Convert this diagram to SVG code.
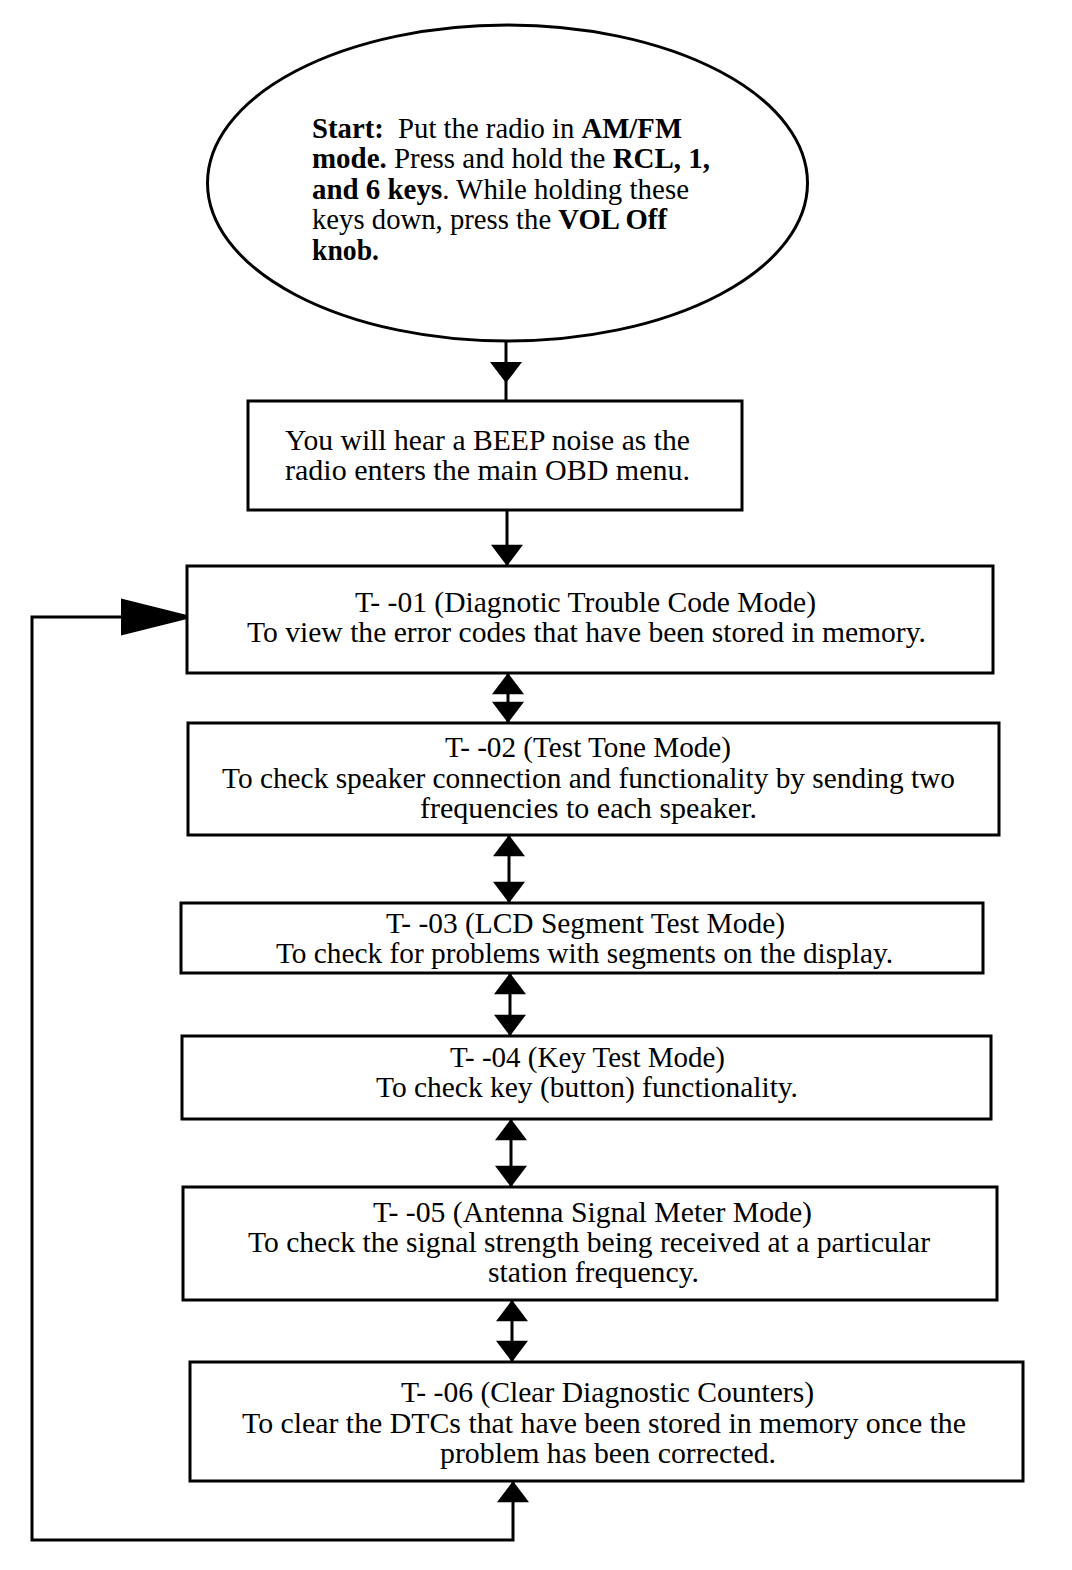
<svg xmlns="http://www.w3.org/2000/svg" width="1072" height="1570" viewBox="0 0 1072 1570">
<defs>
<style>
.shape{fill:#fff;stroke:#000;stroke-width:3}
.line{fill:none;stroke:#000;stroke-width:3}
text{font-family:"Liberation Serif","Times New Roman",serif;font-size:29px;fill:#000}
.c{text-anchor:middle}
.b{font-weight:bold}
</style>
<marker id="ah" markerUnits="userSpaceOnUse" markerWidth="32" markerHeight="32" viewBox="0 0 20 30" refX="20" refY="15" orient="auto-start-reverse">
<path d="M0,0 L20,15 L0,30 Z" fill="#000"/>
</marker>
<marker id="big" markerUnits="userSpaceOnUse" markerWidth="66" markerHeight="40" viewBox="0 0 64 36" refX="64" refY="18" orient="auto">
<path d="M0,0 L64,16 L64,20 L0,36 Z" fill="#000"/>
</marker>
</defs>
<rect width="1072" height="1570" fill="#fff"/>
<g id="connectors">
<line class="line" x1="506" y1="341" x2="506" y2="401"/>
<path d="M490,362 L522,362 L506,383 Z" fill="#000"/>
<line class="line" x1="507" y1="510" x2="507" y2="566" marker-end="url(#ah)"/>
<line class="line" x1="508" y1="673" x2="508" y2="723" marker-start="url(#ah)" marker-end="url(#ah)"/>
<line class="line" x1="509" y1="835" x2="509" y2="903" marker-start="url(#ah)" marker-end="url(#ah)"/>
<line class="line" x1="510" y1="973" x2="510" y2="1036" marker-start="url(#ah)" marker-end="url(#ah)"/>
<line class="line" x1="511" y1="1119" x2="511" y2="1187" marker-start="url(#ah)" marker-end="url(#ah)"/>
<line class="line" x1="512" y1="1300" x2="512" y2="1362" marker-start="url(#ah)" marker-end="url(#ah)"/>
<path class="line" d="M513,1481 L513,1540 L32,1540 L32,617 L187,617" marker-start="url(#ah)" marker-end="url(#big)"/>
</g>
<g id="start">
<ellipse class="shape" cx="507.5" cy="183" rx="300" ry="158"/>
<text x="312" y="138" textLength="370" lengthAdjust="spacingAndGlyphs"><tspan class="b">Start:</tspan>&#160; Put the radio in <tspan class="b">AM/FM</tspan></text>
<text x="312" y="168" textLength="398" lengthAdjust="spacingAndGlyphs"><tspan class="b">mode.</tspan> Press and hold the <tspan class="b">RCL, 1,</tspan></text>
<text x="312" y="199" textLength="377" lengthAdjust="spacingAndGlyphs"><tspan class="b">and 6 keys</tspan>. While holding these</text>
<text x="312" y="229" textLength="355" lengthAdjust="spacingAndGlyphs">keys down, press the <tspan class="b">VOL Off</tspan></text>
<text x="312" y="260" textLength="67" lengthAdjust="spacingAndGlyphs" class="b">knob.</text>
</g>
<g id="beep">
<rect class="shape" x="248" y="401" width="494" height="109"/>
<text class="c" x="487.5" y="450" textLength="405" lengthAdjust="spacingAndGlyphs">You will hear a BEEP noise as the</text>
<text class="c" x="487.5" y="480" textLength="405" lengthAdjust="spacingAndGlyphs">radio enters the main OBD menu.</text>
</g>
<g id="t01">
<rect class="shape" x="187" y="566" width="806" height="107"/>
<text class="c" x="585.5" y="612" textLength="461" lengthAdjust="spacingAndGlyphs">T- -01 (Diagnotic Trouble Code Mode)</text>
<text class="c" x="586.5" y="642" textLength="679" lengthAdjust="spacingAndGlyphs">To view the error codes that have been stored in memory.</text>
</g>
<g id="t02">
<rect class="shape" x="188" y="723" width="811" height="112"/>
<text class="c" x="588" y="757" textLength="286" lengthAdjust="spacingAndGlyphs">T- -02 (Test Tone Mode)</text>
<text class="c" x="588.5" y="788" textLength="733" lengthAdjust="spacingAndGlyphs">To check speaker connection and functionality by sending two</text>
<text class="c" x="588.5" y="818" textLength="337" lengthAdjust="spacingAndGlyphs">frequencies to each speaker.</text>
</g>
<g id="t03">
<rect class="shape" x="181" y="903" width="802" height="70"/>
<text class="c" x="585.5" y="933" textLength="399" lengthAdjust="spacingAndGlyphs">T- -03 (LCD Segment Test Mode)</text>
<text class="c" x="584.5" y="963" textLength="617" lengthAdjust="spacingAndGlyphs">To check for problems with segments on the display.</text>
</g>
<g id="t04">
<rect class="shape" x="182" y="1036" width="809" height="83"/>
<text class="c" x="587.5" y="1067" textLength="275" lengthAdjust="spacingAndGlyphs">T- -04 (Key Test Mode)</text>
<text class="c" x="587" y="1097" textLength="422" lengthAdjust="spacingAndGlyphs">To check key (button) functionality.</text>
</g>
<g id="t05">
<rect class="shape" x="183" y="1187" width="814" height="113"/>
<text class="c" x="592.5" y="1222" textLength="439" lengthAdjust="spacingAndGlyphs">T- -05 (Antenna Signal Meter Mode)</text>
<text class="c" x="589" y="1252" textLength="682" lengthAdjust="spacingAndGlyphs">To check the signal strength being received at a particular</text>
<text class="c" x="593.5" y="1282" textLength="211" lengthAdjust="spacingAndGlyphs">station frequency.</text>
</g>
<g id="t06">
<rect class="shape" x="190" y="1362" width="833" height="119"/>
<text class="c" x="607.5" y="1402" textLength="413" lengthAdjust="spacingAndGlyphs">T- -06 (Clear Diagnostic Counters)</text>
<text class="c" x="604" y="1433" textLength="724" lengthAdjust="spacingAndGlyphs">To clear the DTCs that have been stored in memory once the</text>
<text class="c" x="608" y="1463" textLength="336" lengthAdjust="spacingAndGlyphs">problem has been corrected.</text>
</g>
</svg>
